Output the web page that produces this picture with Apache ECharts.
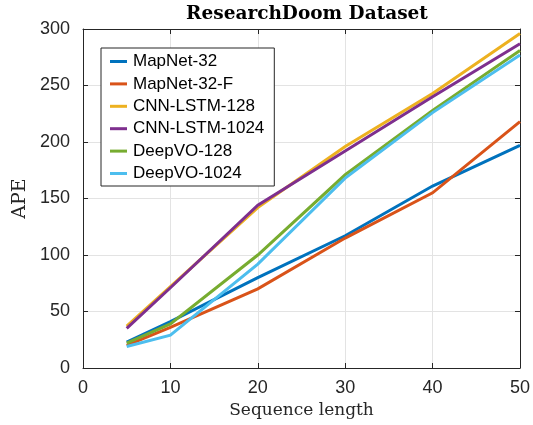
<!DOCTYPE html>
<html>
<head>
<meta charset="utf-8">
<script src="https://cdn.jsdelivr.net/npm/echarts@6/dist/echarts.min.js"></script>
<style>html,body{margin:0;padding:0;background:#fff}#c{width:533px;height:425px}</style>
</head>
<body>
<div id="c"></div>
<script>
const seqLen = [5, 10, 20, 30, 40, 50];
const seriesNames = ['MapNet-32', 'MapNet-32-F', 'CNN-LSTM-128', 'CNN-LSTM-1024', 'DeepVO-128', 'DeepVO-1024'];
const mapnet32 = [23, 41, 80, 117, 161, 197];
const mapnet32F = [20, 36, 70, 115, 155, 218];
const cnnLstm128 = [37, 72, 142, 196, 243, 296];
const cnnLstm1024 = [35, 71, 144, 192, 240, 287];
const deepvo128 = [22, 39, 100, 171, 228, 281];
const deepvo1024 = [19, 29, 92, 168, 226, 277];
const xTicks = [0, 10, 20, 30, 40, 50];
const yTicks = [0, 50, 100, 150, 200, 250, 300];

const colors = ['#0072BD', '#D95319', '#EDB120', '#7E2F8E', '#77AC30', '#4DBEEE'];
const values = [mapnet32, mapnet32F, cnnLstm128, cnnLstm1024, deepvo128, deepvo1024];

const chart = echarts.init(document.getElementById('c'), null, {renderer: 'canvas'});
const axisCol = '#262626';
const sans = 'Liberation Sans, Arial, Helvetica, sans-serif';
const serif = 'DejaVu Serif, Liberation Serif, serif';

const xBase = {
  type: 'value', min: xTicks[0], max: xTicks[xTicks.length - 1], interval: 10,
  axisLine: {show: true, onZero: false, lineStyle: {color: axisCol, width: 1}},
  axisTick: {show: true, inside: true, length: 5, lineStyle: {color: axisCol}}
};
const yBase = {
  type: 'value', min: yTicks[0], max: yTicks[yTicks.length - 1], interval: 50,
  axisLine: {show: true, onZero: false, lineStyle: {color: axisCol, width: 1}},
  axisTick: {show: true, inside: true, length: 5, lineStyle: {color: axisCol}}
};

chart.setOption({
  animation: false,
  backgroundColor: '#fff',
  title: {
    text: 'ResearchDoom Dataset',
    left: 302, top: 0, textAlign: 'center',
    textStyle: {fontFamily: serif, fontWeight: 'bold', fontSize: 18.5, color: '#000'}
  },
  grid: {left: 83, right: 8, top: 29, bottom: 57, containLabel: false},
  legend: {
    orient: 'vertical', left: 101, top: 48,
    width: 200,
    padding: [5, 10, 4, 9],
    itemGap: 5.4,
    itemWidth: 17, itemHeight: 3,
    icon: 'rect',
    backgroundColor: '#fff',
    borderColor: axisCol, borderWidth: 1, borderRadius: 0,
    textStyle: {fontFamily: sans, fontSize: 17, color: '#000', padding: [0, 0, 0, 1], lineHeight: 17},
    data: seriesNames
  },
  xAxis: [
    Object.assign({}, xBase, {
      position: 'bottom',
      name: 'Sequence length', nameLocation: 'middle', nameGap: 34,
      nameTextStyle: {fontFamily: serif, fontSize: 17, color: '#262626'},
      axisLabel: {show: true, fontFamily: sans, fontSize: 18, color: '#262626', margin: 11},
      splitLine: {show: true, lineStyle: {color: '#e3e3e3', width: 1}}
    }),
    Object.assign({}, xBase, {
      position: 'top',
      axisLabel: {show: false},
      splitLine: {show: false}
    })
  ],
  yAxis: [
    Object.assign({}, yBase, {
      position: 'left',
      name: 'APE', nameLocation: 'middle', nameGap: 53, nameRotate: 90,
      nameTextStyle: {fontFamily: serif, fontSize: 19, color: '#262626'},
      axisLabel: {show: true, fontFamily: sans, fontSize: 18, color: '#262626', margin: 13},
      splitLine: {show: true, lineStyle: {color: '#e3e3e3', width: 1}}
    }),
    Object.assign({}, yBase, {
      position: 'right',
      axisLabel: {show: false},
      splitLine: {show: false}
    })
  ],
  series: seriesNames.map((n, i) => ({
    name: n,
    type: 'line',
    xAxisIndex: 0, yAxisIndex: 0,
    data: seqLen.map((x, j) => [x, values[i][j]]),
    symbol: 'none',
    color: colors[i],
    lineStyle: {width: 3, color: colors[i], cap: 'butt', join: 'miter'},
    z: 2 + i
  }))
});
</script>
</body>
</html>
